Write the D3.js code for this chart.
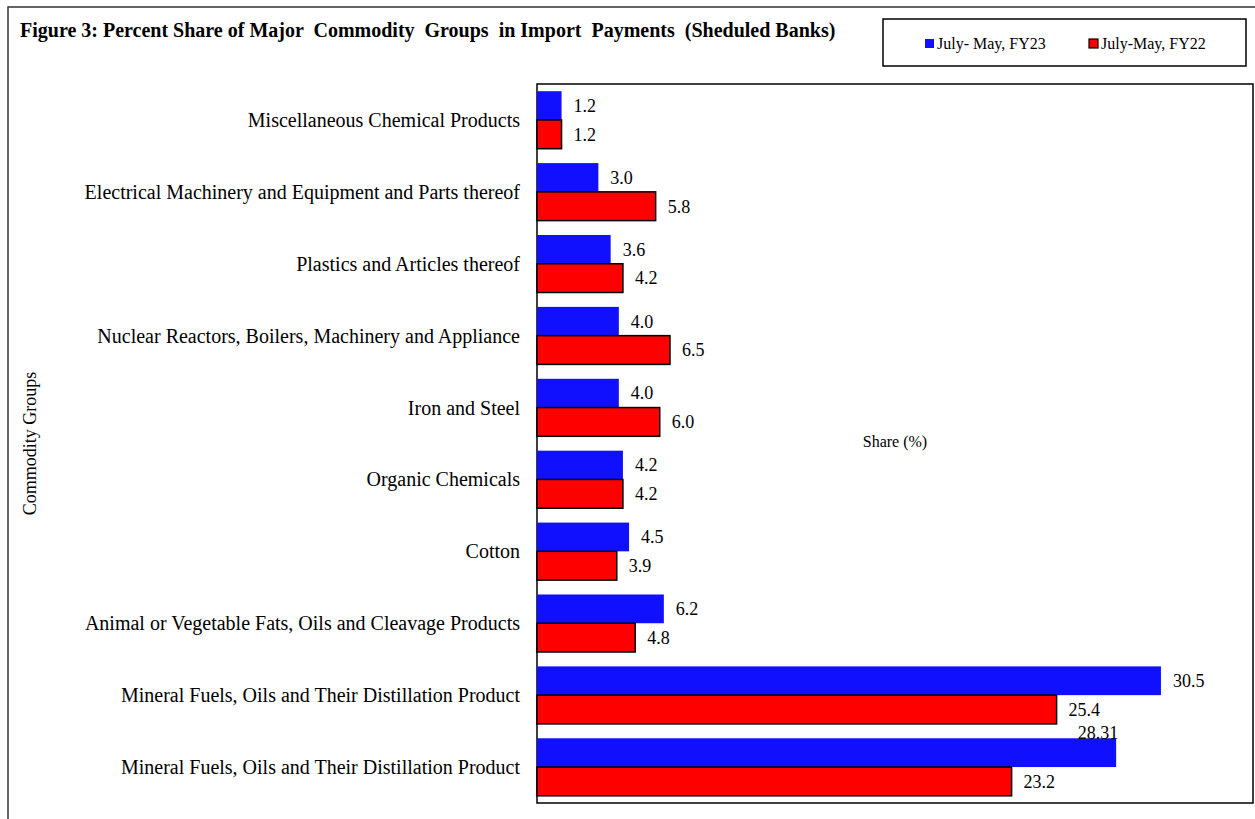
<!DOCTYPE html>
<html>
<head>
<meta charset="utf-8">
<script src="https://cdn.jsdelivr.net/npm/d3@7"></script>
<style>
  body { margin: 0; background: #fff; }
  text { font-family: "Liberation Serif", "Times New Roman", serif; fill: #000; }
  .chart-title { font-weight: bold; font-size: 20px; white-space: pre; }
  .cat-label { font-size: 20px; }
  .value-label { font-size: 18px; }
  .legend-label { font-size: 16px; white-space: pre; }
</style>
</head>
<body>
<div id="import-share"></div>
<script>
// data, top to bottom as drawn
const categories = [
  'Miscellaneous Chemical Products',
  'Electrical Machinery and Equipment and Parts thereof',
  'Plastics and Articles thereof',
  'Nuclear Reactors, Boilers, Machinery and Appliance',
  'Iron and Steel',
  'Organic Chemicals',
  'Cotton',
  'Animal or Vegetable Fats, Oils and Cleavage Products',
  'Mineral Fuels, Oils and Their Distillation Product',
  'Mineral Fuels, Oils and Their Distillation Product'
];
const fy23 = [1.2, 3.0, 3.6, 4.0, 4.0, 4.2, 4.5, 6.2, 30.5, 28.31];
const fy22 = [1.2, 5.8, 4.2, 6.5, 6.0, 4.2, 3.9, 4.8, 25.4, 23.2];
const fy23Labels = ['1.2', '3.0', '3.6', '4.0', '4.0', '4.2', '4.5', '6.2', '30.5', '28.31'];
const fy22Labels = ['1.2', '5.8', '4.2', '6.5', '6.0', '4.2', '3.9', '4.8', '25.4', '23.2'];
const seriesNames = ['July- May, FY23', 'July-May, FY22'];
const xDomain = [0, 35];

// constants
const containerSelector = '#import-share';
const chartTitle = 'Figure 3: Percent Share of Major  Commodity  Groups  in Import  Payments  (Sheduled Banks)';
const colors = ['#1010ff', '#ff0000'];

let svgWidth = 1255,
    svgHeight = 819,
    plot = { left: 537, top: 84, right: 1253, bottom: 803 };

let xScale, yScale, ySeries;
let $svg, $groups;

function constructChart() {
  const rows = categories.map((c, i) => ({
    index: i,
    name: c,
    values: [
      { key: 0, value: fy23[i], label: fy23Labels[i] },
      { key: 1, value: fy22[i], label: fy22Labels[i] }
    ]
  }));

  xScale = d3.scaleLinear()
    .domain(xDomain)
    .range([plot.left, plot.right]);

  yScale = d3.scaleBand()
    .domain(rows.map(d => d.index))
    .range([plot.top, plot.bottom])
    .paddingInner(0.2)
    .paddingOuter(0.1);

  ySeries = d3.scaleBand()
    .domain([0, 1])
    .range([0, yScale.bandwidth()]);

  $svg = d3.select(containerSelector).append('svg')
    .attr('width', svgWidth)
    .attr('height', svgHeight);

  $svg.append('rect')
    .attr('width', svgWidth)
    .attr('height', svgHeight)
    .style('fill', '#fff');

  // outer frame (runs off right and bottom edges)
  $svg.append('rect')
    .attr('x', 8)
    .attr('y', 7)
    .attr('width', svgWidth + 20)
    .attr('height', svgHeight + 20)
    .style('fill', 'none')
    .style('stroke', '#333')
    .style('stroke-width', 1.5);

  $svg.append('text')
    .classed('chart-title', true)
    .attr('x', 20)
    .attr('y', 37)
    .text(chartTitle);

  // plot area
  $svg.append('rect')
    .attr('x', plot.left)
    .attr('y', plot.top)
    .attr('width', plot.right - plot.left)
    .attr('height', plot.bottom - plot.top)
    .style('fill', 'none')
    .style('stroke', '#000')
    .style('stroke-width', 1.5);

  $groups = $svg.selectAll('g.group')
    .data(rows)
    .enter()
    .append('g')
    .classed('group', true)
    .attr('transform', d => `translate(0, ${yScale(d.index)})`);

  $groups.append('text')
    .classed('cat-label', true)
    .attr('x', plot.left - 17)
    .attr('y', yScale.bandwidth() / 2)
    .attr('dy', '0.35em')
    .attr('text-anchor', 'end')
    .text(d => d.name);

  $groups.selectAll('rect')
    .data(d => d.values)
    .enter()
    .append('rect')
    .attr('x', xScale(0))
    .attr('y', d => ySeries(d.key))
    .attr('width', d => xScale(d.value) - xScale(0))
    .attr('height', ySeries.bandwidth())
    .style('fill', d => colors[d.key])
    .style('stroke', d => d.key === 1 ? '#000' : 'none')
    .style('stroke-width', 1.5);

  $groups.selectAll('text.value-label')
    .data(d => d.values)
    .enter()
    .append('text')
    .classed('value-label', true)
    .each(function(d) {
      let $t = d3.select(this);
      if (d.label === '28.31') {
        // this label sits on top of its bar, right aligned
        $t.attr('x', xScale(d.value) + 2)
          .attr('y', ySeries(d.key) + 1)
          .attr('text-anchor', 'end');
      } else {
        $t.attr('x', xScale(d.value) + 12)
          .attr('y', ySeries(d.key) + ySeries.bandwidth() / 2)
          .attr('dy', '0.35em');
      }
    })
    .text(d => d.label);

  // axis titles
  $svg.append('text')
    .attr('transform', `translate(36, ${(plot.top + plot.bottom) / 2}) rotate(-90)`)
    .attr('text-anchor', 'middle')
    .style('font-size', '18px')
    .text('Commodity Groups');

  $svg.append('text')
    .attr('x', (plot.left + plot.right) / 2)
    .attr('y', (plot.top + plot.bottom) / 2 - 2)
    .attr('dy', '0.35em')
    .attr('text-anchor', 'middle')
    .style('font-size', '16px')
    .text('Share (%)');

  // legend
  let $legend = $svg.append('g');

  $legend.append('rect')
    .attr('x', 883)
    .attr('y', 19)
    .attr('width', 363)
    .attr('height', 47)
    .style('fill', '#fff')
    .style('stroke', '#000')
    .style('stroke-width', 1.5);

  let legendX = [925, 1089];

  $legend.selectAll('rect.key')
    .data(seriesNames)
    .enter()
    .append('rect')
    .classed('key', true)
    .attr('x', (d, i) => legendX[i])
    .attr('y', 39)
    .attr('width', 9)
    .attr('height', 9)
    .style('fill', (d, i) => colors[i])
    .style('stroke', (d, i) => i === 1 ? '#000' : 'none')
    .style('stroke-width', 1.2);

  $legend.selectAll('text.legend-label')
    .data(seriesNames)
    .enter()
    .append('text')
    .classed('legend-label', true)
    .attr('x', (d, i) => legendX[i] + 12)
    .attr('y', 49)
    .text(d => d);
}

constructChart();
</script>
</body>
</html>
